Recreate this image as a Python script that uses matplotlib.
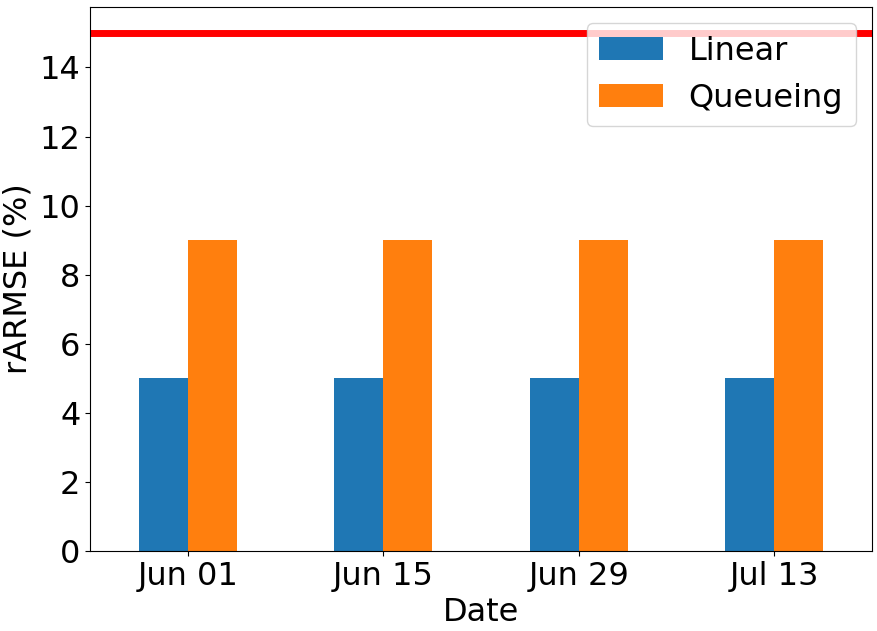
import matplotlib
matplotlib.use("Agg")
import matplotlib.pyplot as plt
import numpy as np

dates = ["Jun 01", "Jun 15", "Jun 29", "Jul 13"]
linear = [5, 5, 5, 5]
queueing = [9, 9, 9, 9]
threshold = 15

fig = plt.figure(figsize=(8.78, 6.31), dpi=100)
ax = fig.add_axes([90/878, 1-551/631, (872-90)/878, (551-7)/631])
x = np.arange(len(dates))
w = 0.25
ax.bar(x - w/2, linear, w, color="#1f77b4", label="Linear")
ax.bar(x + w/2, queueing, w, color="#ff7f0e", label="Queueing")
ax.axhline(threshold, color="red", lw=5)
ax.set_xlim(-0.5, 3.5)
ax.set_ylim(0, 15.75)
ax.set_xticks(x)
ax.set_xticklabels(dates, rotation=0)
ax.tick_params(labelsize=23)
ax.set_xlabel("Date", fontsize=23)
ax.set_ylabel("rARMSE (%)", fontsize=23)
ax.legend(loc="upper right", fontsize=23)
fig.savefig("out.png", dpi=100)
